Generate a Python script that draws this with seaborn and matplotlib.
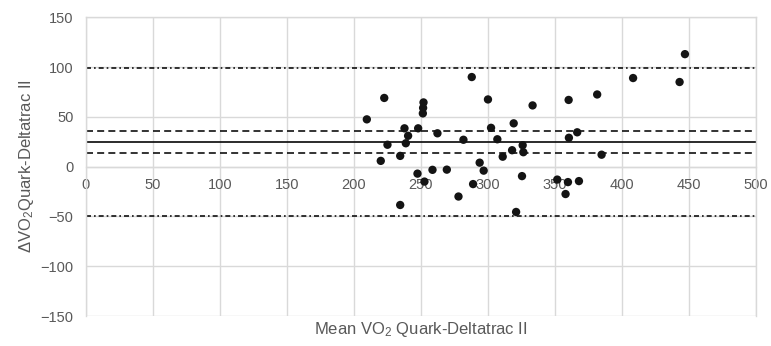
import matplotlib
matplotlib.use("Agg")
import matplotlib.pyplot as plt
import seaborn as sns
import pandas as pd

# Bland-Altman data
mean_vo2 = [209.6, 222.6, 220.0, 225.0, 234.5, 234.5, 237.7, 238.7, 240.4, 247.4,
            247.9, 251.9, 251.6, 251.4, 252.6, 258.6, 262.3, 269.3, 278.0, 281.7,
            287.9, 288.9, 293.8, 296.8, 300.0, 302.3, 307.0, 311.0, 318.0, 319.2,
            325.4, 325.9, 326.4, 333.3, 351.7, 359.7, 357.9, 360.2, 360.4, 366.6,
            367.9, 381.5, 384.8, 408.3, 443.0, 447.0, 321.0]
diff_vo2 = [47.5, 69.0, 5.8, 22.0, 10.8, -38.5, 38.5, 23.5, 31.0, -7.0,
            38.5, 64.5, 59.0, 53.5, -15.0, -3.2, 33.5, -3.0, -30.0, 27.0,
            90.0, -17.5, 4.0, -4.0, 67.5, 39.0, 27.5, 10.0, 16.5, 43.5,
            -9.5, 21.5, 14.5, 61.5, -13.0, -15.5, -27.5, 67.0, 29.0, 34.5,
            -14.5, 72.5, 12.0, 89.0, 85.0, 113.0, -45.5]

bias = 24.5
bias_ci = [14.0, 35.4]
limits = [99.0, -50.0]

x_ticks = [0, 50, 100, 150, 200, 250, 300, 350, 400, 450, 500]
y_ticks = [-150, -100, -50, 0, 50, 100, 150]

df = pd.DataFrame({"mean": mean_vo2, "diff": diff_vo2})

sns.set_style("white")
plt.rcParams["font.family"] = ["Liberation Sans", "DejaVu Sans"]
plt.rcParams["mathtext.fontset"] = "custom"
plt.rcParams["mathtext.rm"] = "Liberation Sans"
plt.rcParams["mathtext.it"] = "Liberation Sans"

grid_col = "#d9d9d9"
text_col = "#595959"

fig = plt.figure(figsize=(7.71, 3.46), dpi=100)
ax = fig.add_axes([0.1115, 0.0867, 0.869, 0.8633])

ax.axhline(bias, color="#111111", lw=1.25, zorder=2)
for v in bias_ci:
    ax.axhline(v, color="#111111", lw=1.2, dashes=(4.2, 2.5), zorder=2)
for v in limits:
    ax.axhline(v, color="#111111", lw=1.2, dashes=(3.0, 1.8, 1.0, 1.8), zorder=2)

sns.scatterplot(data=df, x="mean", y="diff", ax=ax, color="#141414",
                s=36, edgecolor="none", zorder=3, legend=False)

ax.set_xlim(0, 500)
ax.set_ylim(-150, 150)
ax.set_xticks(x_ticks)
ax.set_yticks(y_ticks)
ax.grid(True, color=grid_col, lw=1.0, zorder=0)
ax.set_axisbelow(True)

for side in ["top", "right", "left", "bottom"]:
    ax.spines[side].set_color(grid_col)
    ax.spines[side].set_linewidth(1.0)
ax.spines["bottom"].set_position(("data", 0))

ax.tick_params(axis="x", length=0, pad=8, labelsize=10.5, labelcolor=text_col)
ax.tick_params(axis="y", length=0, pad=9, labelsize=10.5, labelcolor=text_col)

ax.set_xlabel("Mean VO$_2$ Quark-Deltatrac II", fontsize=12, color=text_col, va="top")
ax.xaxis.set_label_coords(0.5, -0.012)
ax.set_ylabel("\u0394VO$_2$Quark-Deltatrac II", fontsize=12, color=text_col)
ax.yaxis.set_label_coords(-0.075, 0.5)

fig.savefig("out.png", dpi=100, facecolor="white")
